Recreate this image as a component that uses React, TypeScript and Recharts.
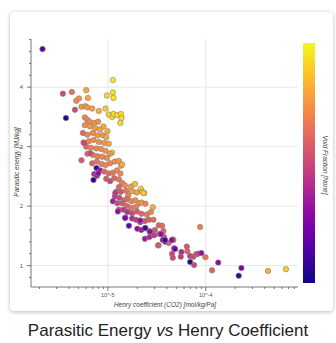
import React from "react";
import { ScatterChart, Scatter, XAxis, YAxis, ReferenceLine } from "recharts";

// Henry coefficient (CO2) [mol/kg/Pa]
const henry = [
  2.15e-6, 3.47e-6, 4.29e-6, 3.73e-6, 4.61e-6, 4.75e-6, 5.06e-6, 6.01e-6, 6.25e-6, 5.38e-6,
  5.91e-6, 6.19e-6, 6.92e-6, 8.09e-6, 9.77e-6, 1.125e-5, 1.125e-5, 1.14e-5, 9.46e-6, 1.02e-5,
  1.106e-5, 1.14e-5, 1.25e-5, 1.36e-5, 1.38e-5, 1.34e-5, 5.82e-6, 6.19e-6, 6.49e-6, 7.25e-6,
  7.96e-6, 5.82e-6, 6.6e-6, 7.47e-6, 8.34e-6, 9.02e-6, 9.91e-6, 5.56e-6, 6.19e-6, 7.03e-6,
  7.83e-6, 8.89e-6, 9.61e-6, 5.64e-6, 6.4e-6, 7.13e-6, 8.09e-6, 9.17e-6, 1.02e-5, 1.106e-5,
  6.01e-6, 6.71e-6, 7.6e-6, 8.49e-6, 9.46e-6, 6.19e-6, 7.03e-6, 7.83e-6, 8.75e-6, 9.77e-6,
  1.055e-5, 5.38e-6, 6.92e-6, 7.73e-6, 8.61e-6, 9.46e-6, 1.055e-5, 1.18e-5, 1.295e-5, 1.36e-5,
  1.4e-5, 7.65e-6, 8.34e-6, 7.25e-6, 7.13e-6, 7.73e-6, 9.17e-6, 1.02e-5, 1.125e-5, 1.236e-5,
  1.34e-5, 9.61e-6, 1.055e-5, 1.16e-5, 1.295e-5, 1.4e-5, 1.49e-5, 1.295e-5, 1.215e-5, 1.36e-5,
  1.54e-5, 1.72e-5, 1.89e-5, 2.17e-5, 2.24e-5, 2.35e-5, 1.98e-5, 1.77e-5, 1.61e-5, 1.18e-5,
  1.31e-5, 1.47e-5, 1.585e-5, 1.74e-5, 1.91e-5, 2.1e-5, 1.125e-5, 1.25e-5, 1.4e-5, 1.56e-5,
  1.74e-5, 1.94e-5, 2.2e-5, 2.42e-5, 2.88e-5, 1.295e-5, 1.44e-5, 1.585e-5, 1.77e-5, 1.98e-5,
  2.2e-5, 2.5e-5, 2.75e-5, 1.51e-5, 1.64e-5, 1.77e-5, 1.94e-5, 2.14e-5, 2.39e-5, 2.62e-5,
  2.92e-5, 2.0e-5, 2.2e-5, 2.42e-5, 2.66e-5, 3.02e-5, 3.31e-5, 3.58e-5, 3.69e-5, 2.39e-5,
  2.66e-5, 2.97e-5, 3.36e-5, 3.75e-5, 3.26e-5, 3.64e-5, 3.87e-5, 4.19e-5, 4.6e-5, 4.75e-5,
  4.53e-5, 4.6e-5, 5.64e-5, 5.56e-5, 6.4e-5, 6.49e-5, 6.92e-5, 6.92e-5, 7.47e-5, 7.6e-5,
  7.96e-5, 8.34e-5, 9.02e-5, 8.75e-5, 9.91e-5, 1.16e-4, 1.34e-4, 2.17e-4, 2.31e-4, 4.32e-4,
  6.59e-4, 2.4e-5, 3.29e-5, 4.86e-5, 4.67e-5, 7.96e-6, 5.73e-6, 6.6e-6, 1.19e-5, 1.265e-5,
  1.5e-5, 2.14e-5, 2.7e-5, 3.48e-5, 4.5e-5, 2.31e-5, 3.84e-5,
];

// Parasitic energy [MJ/kg]
const energy = [
  4.64, 3.89, 3.92, 3.48, 3.62, 3.77, 3.81, 3.95, 3.82, 3.67,
  3.68, 3.66, 3.64, 3.6, 3.86, 4.12, 3.91, 3.82, 3.64, 3.54,
  3.5, 3.55, 3.53, 3.55, 3.48, 3.4, 3.49, 3.45, 3.42, 3.4,
  3.42, 3.36, 3.34, 3.31, 3.29, 3.34, 3.26, 3.23, 3.2, 3.23,
  3.19, 3.19, 3.16, 3.07, 3.09, 3.11, 3.08, 3.06, 3.05, 2.9,
  3.0, 2.98, 2.97, 2.96, 2.93, 2.88, 2.86, 2.84, 2.83, 2.81,
  2.88, 2.77, 2.72, 2.75, 2.71, 2.69, 2.72, 2.75, 2.76, 2.68,
  2.7, 2.64, 2.6, 2.54, 2.44, 2.51, 2.58, 2.55, 2.56, 2.6,
  2.55, 2.46, 2.42, 2.47, 2.45, 2.39, 2.35, 2.32, 2.24, 2.24,
  2.26, 2.33, 2.37, 2.29, 2.24, 2.22, 2.23, 2.25, 2.18, 2.16,
  2.14, 2.1, 2.12, 2.08, 2.1, 2.05, 2.08, 2.05, 2.05, 2.0,
  1.97, 1.99, 2.06, 2.04, 1.98, 1.94, 1.94, 1.9, 1.88, 1.91,
  1.87, 1.86, 1.9, 1.81, 1.67, 1.79, 1.77, 1.73, 1.75, 1.77,
  1.77, 1.62, 1.6, 1.63, 1.58, 1.6, 1.68, 1.67, 1.58, 1.45,
  1.48, 1.51, 1.53, 1.48, 1.34, 1.43, 1.4, 1.38, 1.44, 1.29,
  1.2, 1.13, 1.23, 1.15, 1.32, 1.24, 1.16, 1.06, 1.15, 1.01,
  1.19, 1.2, 1.21, 1.65, 1.14, 0.92, 1.05, 0.83, 0.96, 0.91,
  0.94, 1.63, 1.34, 1.28, 1.43, 2.55, 3.06, 2.89, 2.22, 1.91,
  1.8, 1.76, 1.57, 1.53, 1.43, 2.22, 1.43,
];

// Void Fraction [None]
const voidFraction = [
  0.15, 0.5, 0.65, 0.05, 0.5, 0.72, 0.72, 0.8, 0.8, 0.75,
  0.75, 0.76, 0.78, 0.83, 0.93, 0.96, 0.95, 0.95, 0.9, 0.92,
  0.93, 0.92, 0.93, 0.94, 0.93, 0.92, 0.7, 0.72, 0.72, 0.75,
  0.73, 0.72, 0.75, 0.77, 0.78, 0.8, 0.82, 0.6, 0.7, 0.72,
  0.75, 0.75, 0.8, 0.62, 0.7, 0.72, 0.73, 0.75, 0.78, 0.9,
  0.6, 0.68, 0.7, 0.72, 0.73, 0.6, 0.65, 0.68, 0.7, 0.72,
  0.75, 0.55, 0.6, 0.65, 0.68, 0.7, 0.7, 0.72, 0.75, 0.78,
  0.82, 0.08, 0.3, 0.4, 0.05, 0.35, 0.6, 0.62, 0.65, 0.7,
  0.7, 0.55, 0.5, 0.6, 0.65, 0.68, 0.72, 0.6, 0.5, 0.55,
  0.65, 0.78, 0.85, 0.9, 0.88, 0.85, 0.78, 0.78, 0.7, 0.45,
  0.5, 0.6, 0.62, 0.7, 0.72, 0.75, 0.35, 0.5, 0.55, 0.6,
  0.65, 0.68, 0.75, 0.7, 0.82, 0.5, 0.45, 0.42, 0.5, 0.55,
  0.6, 0.65, 0.7, 0.4, 0.2, 0.4, 0.45, 0.45, 0.55, 0.58,
  0.62, 0.3, 0.35, 0.4, 0.45, 0.55, 0.6, 0.62, 0.6, 0.35,
  0.4, 0.45, 0.5, 0.55, 0.5, 0.3, 0.2, 0.6, 0.55, 0.3,
  0.5, 0.5, 0.4, 0.45, 0.55, 0.6, 0.45, 0.05, 0.5, 0.5,
  0.55, 0.48, 0.3, 0.68, 0.65, 0.6, 0.3, 0.08, 0.25, 0.82,
  0.9, 0.1, 0.55, 0.2, 0.6, 0.3, 0.5, 0.5, 0.45, 0.3,
  0.25, 0.3, 0.3, 0.3, 0.3, 0.9, 0.1,
];

const xTicks = [
  2e-6, 3e-6, 4e-6, 5e-6, 6e-6, 7e-6, 8e-6, 9e-6, 1e-5,
  2e-5, 3e-5, 4e-5, 5e-5, 6e-5, 7e-5, 8e-5, 9e-5, 1e-4,
  2e-4, 3e-4, 4e-4, 5e-4, 6e-4, 7e-4, 8e-4,
];
const xMajorTicks = [1e-5, 1e-4];
const xMajorLabels = ["10^-5", "10^-4"];
const yTicks = [0.8, 1, 1.2, 1.4, 1.6, 1.8, 2, 2.2, 2.4, 2.6, 2.8, 3, 3.2, 3.4, 3.6, 3.8, 4, 4.2, 4.4, 4.6, 4.8];
const yMajorTicks = [1, 2, 3, 4];

const PLASMA = ["#0d0887", "#41049d", "#6a00a8", "#8f0da4", "#b12a90", "#cc4778", "#e16462", "#f2844b", "#fca636", "#fcce25", "#f0f921"];

function hexRgb(h: string) {
  return [parseInt(h.slice(1, 3), 16), parseInt(h.slice(3, 5), 16), parseInt(h.slice(5, 7), 16)];
}

function plasma(t: number) {
  const s = Math.max(0, Math.min(1, t)) * 10;
  const i = Math.min(9, Math.floor(s));
  const f = s - i;
  const a = hexRgb(PLASMA[i]);
  const b = hexRgb(PLASMA[i + 1]);
  const c = a.map((v, k) => Math.round(v + (b[k] - v) * f));
  return `rgb(${c[0]},${c[1]},${c[2]})`;
}

const data = henry.map((h, i) => ({ h, e: energy[i], color: plasma(voidFraction[i]) }));

const FONT = "'Liberation Sans', Arial, Helvetica, sans-serif";
const AXIS = "#555";

const XTick = (props: any) => {
  const { x, y, payload } = props;
  const idx = xMajorTicks.findIndex((m) => Math.abs(m - payload.value) / m < 1e-6);
  const major = idx >= 0;
  return (
    <g>
      <line x1={x} x2={x} y1={y} y2={y + (major ? 4 : 2)} stroke={AXIS} strokeWidth={0.8} />
      {major && (
        <text x={x} y={y + 10} textAnchor="middle" fontSize={5.5} fill="#555" fontFamily={FONT}>
          {xMajorLabels[idx]}
        </text>
      )}
    </g>
  );
};

const YTick = (props: any) => {
  const { x, y, payload } = props;
  const major = yMajorTicks.some((m) => Math.abs(m - payload.value) < 1e-9);
  return (
    <g>
      <line x1={x} x2={x - (major ? 4 : 2)} y1={y} y2={y} stroke={AXIS} strokeWidth={0.8} />
      {major && (
        <text x={x - 8} y={y + 2} textAnchor="end" fontSize={6} fill="#555" fontFamily={FONT}>
          {payload.value}
        </text>
      )}
    </g>
  );
};

const Dot = (props: any) => {
  const { cx, cy, payload } = props;
  return <circle cx={cx} cy={cy} r={2.75} fill={payload.color} stroke="#808080" strokeWidth={0.6} />;
};

export default function App() {
  return (
    <div style={{ position: "absolute", left: 0, top: 0, width: 336, height: 343, background: "#fff", fontFamily: FONT }}>
      <div
        style={{
          position: "absolute", left: 10, top: 12, width: 323, height: 299,
          borderRadius: 4, background: "#fff", boxShadow: "0 1px 4px rgba(0,0,0,0.28)",
        }}
      />
      <div style={{ position: "absolute", left: 0, top: 0 }}>
        <ScatterChart width={336} height={343} margin={{ top: 39, right: 38, bottom: 30, left: 0 }}>
          {yMajorTicks.map((v) => (
            <ReferenceLine key={"h" + v} y={v} stroke="#e8e8e8" strokeWidth={1} />
          ))}
          {xMajorTicks.map((v) => (
            <ReferenceLine key={"v" + v} x={v} stroke="#e8e8e8" strokeWidth={1} />
          ))}
          <XAxis
            type="number" dataKey="h" scale="log" domain={[1.64e-6, 8.75e-4]} allowDataOverflow
            ticks={xTicks} interval={0} height={26} tickSize={0} tickMargin={0}
            tick={<XTick />} tickLine={false} axisLine={{ stroke: AXIS, strokeWidth: 0.8 }}
          />
          <YAxis
            type="number" dataKey="e" domain={[0.64, 4.81]} allowDataOverflow
            ticks={yTicks} interval={0} width={31} tickSize={0} tickMargin={0}
            tick={<YTick />} tickLine={false} axisLine={{ stroke: AXIS, strokeWidth: 0.8 }}
          />
          <Scatter data={data} shape={<Dot />} isAnimationActive={false} />
        </ScatterChart>
      </div>
      <div
        style={{
          position: "absolute", left: 303, top: 43, width: 12, height: 240,
          background: `linear-gradient(to top, ${PLASMA.join(", ")})`,
        }}
      />
      <div
        style={{
          position: "absolute", left: 325, top: 165, transform: "translate(-50%, -50%) rotate(90deg)",
          whiteSpace: "nowrap", fontSize: 6.5, fontStyle: "italic", color: "#444",
        }}
      >
        Void Fraction [None]
      </div>
      <div
        style={{
          position: "absolute", left: 16, top: 162, transform: "translate(-50%, -50%) rotate(-90deg)",
          whiteSpace: "nowrap", fontSize: 6.5, fontStyle: "italic", color: "#444",
        }}
      >
        Parasitic energy [MJ/kg]
      </div>
      <div
        style={{
          position: "absolute", left: 165, top: 304, transform: "translate(-50%, -50%)",
          whiteSpace: "nowrap", fontSize: 6.5, fontStyle: "italic", color: "#444",
        }}
      >
        Henry coefficient (CO2) [mol/kg/Pa]
      </div>
      <div
        style={{
          position: "absolute", left: 0, width: 336, top: 321, textAlign: "center",
          fontSize: 17, color: "#222", whiteSpace: "nowrap",
        }}
      >
        Parasitic Energy <i>vs</i> Henry Coefficient
      </div>
    </div>
  );
}
